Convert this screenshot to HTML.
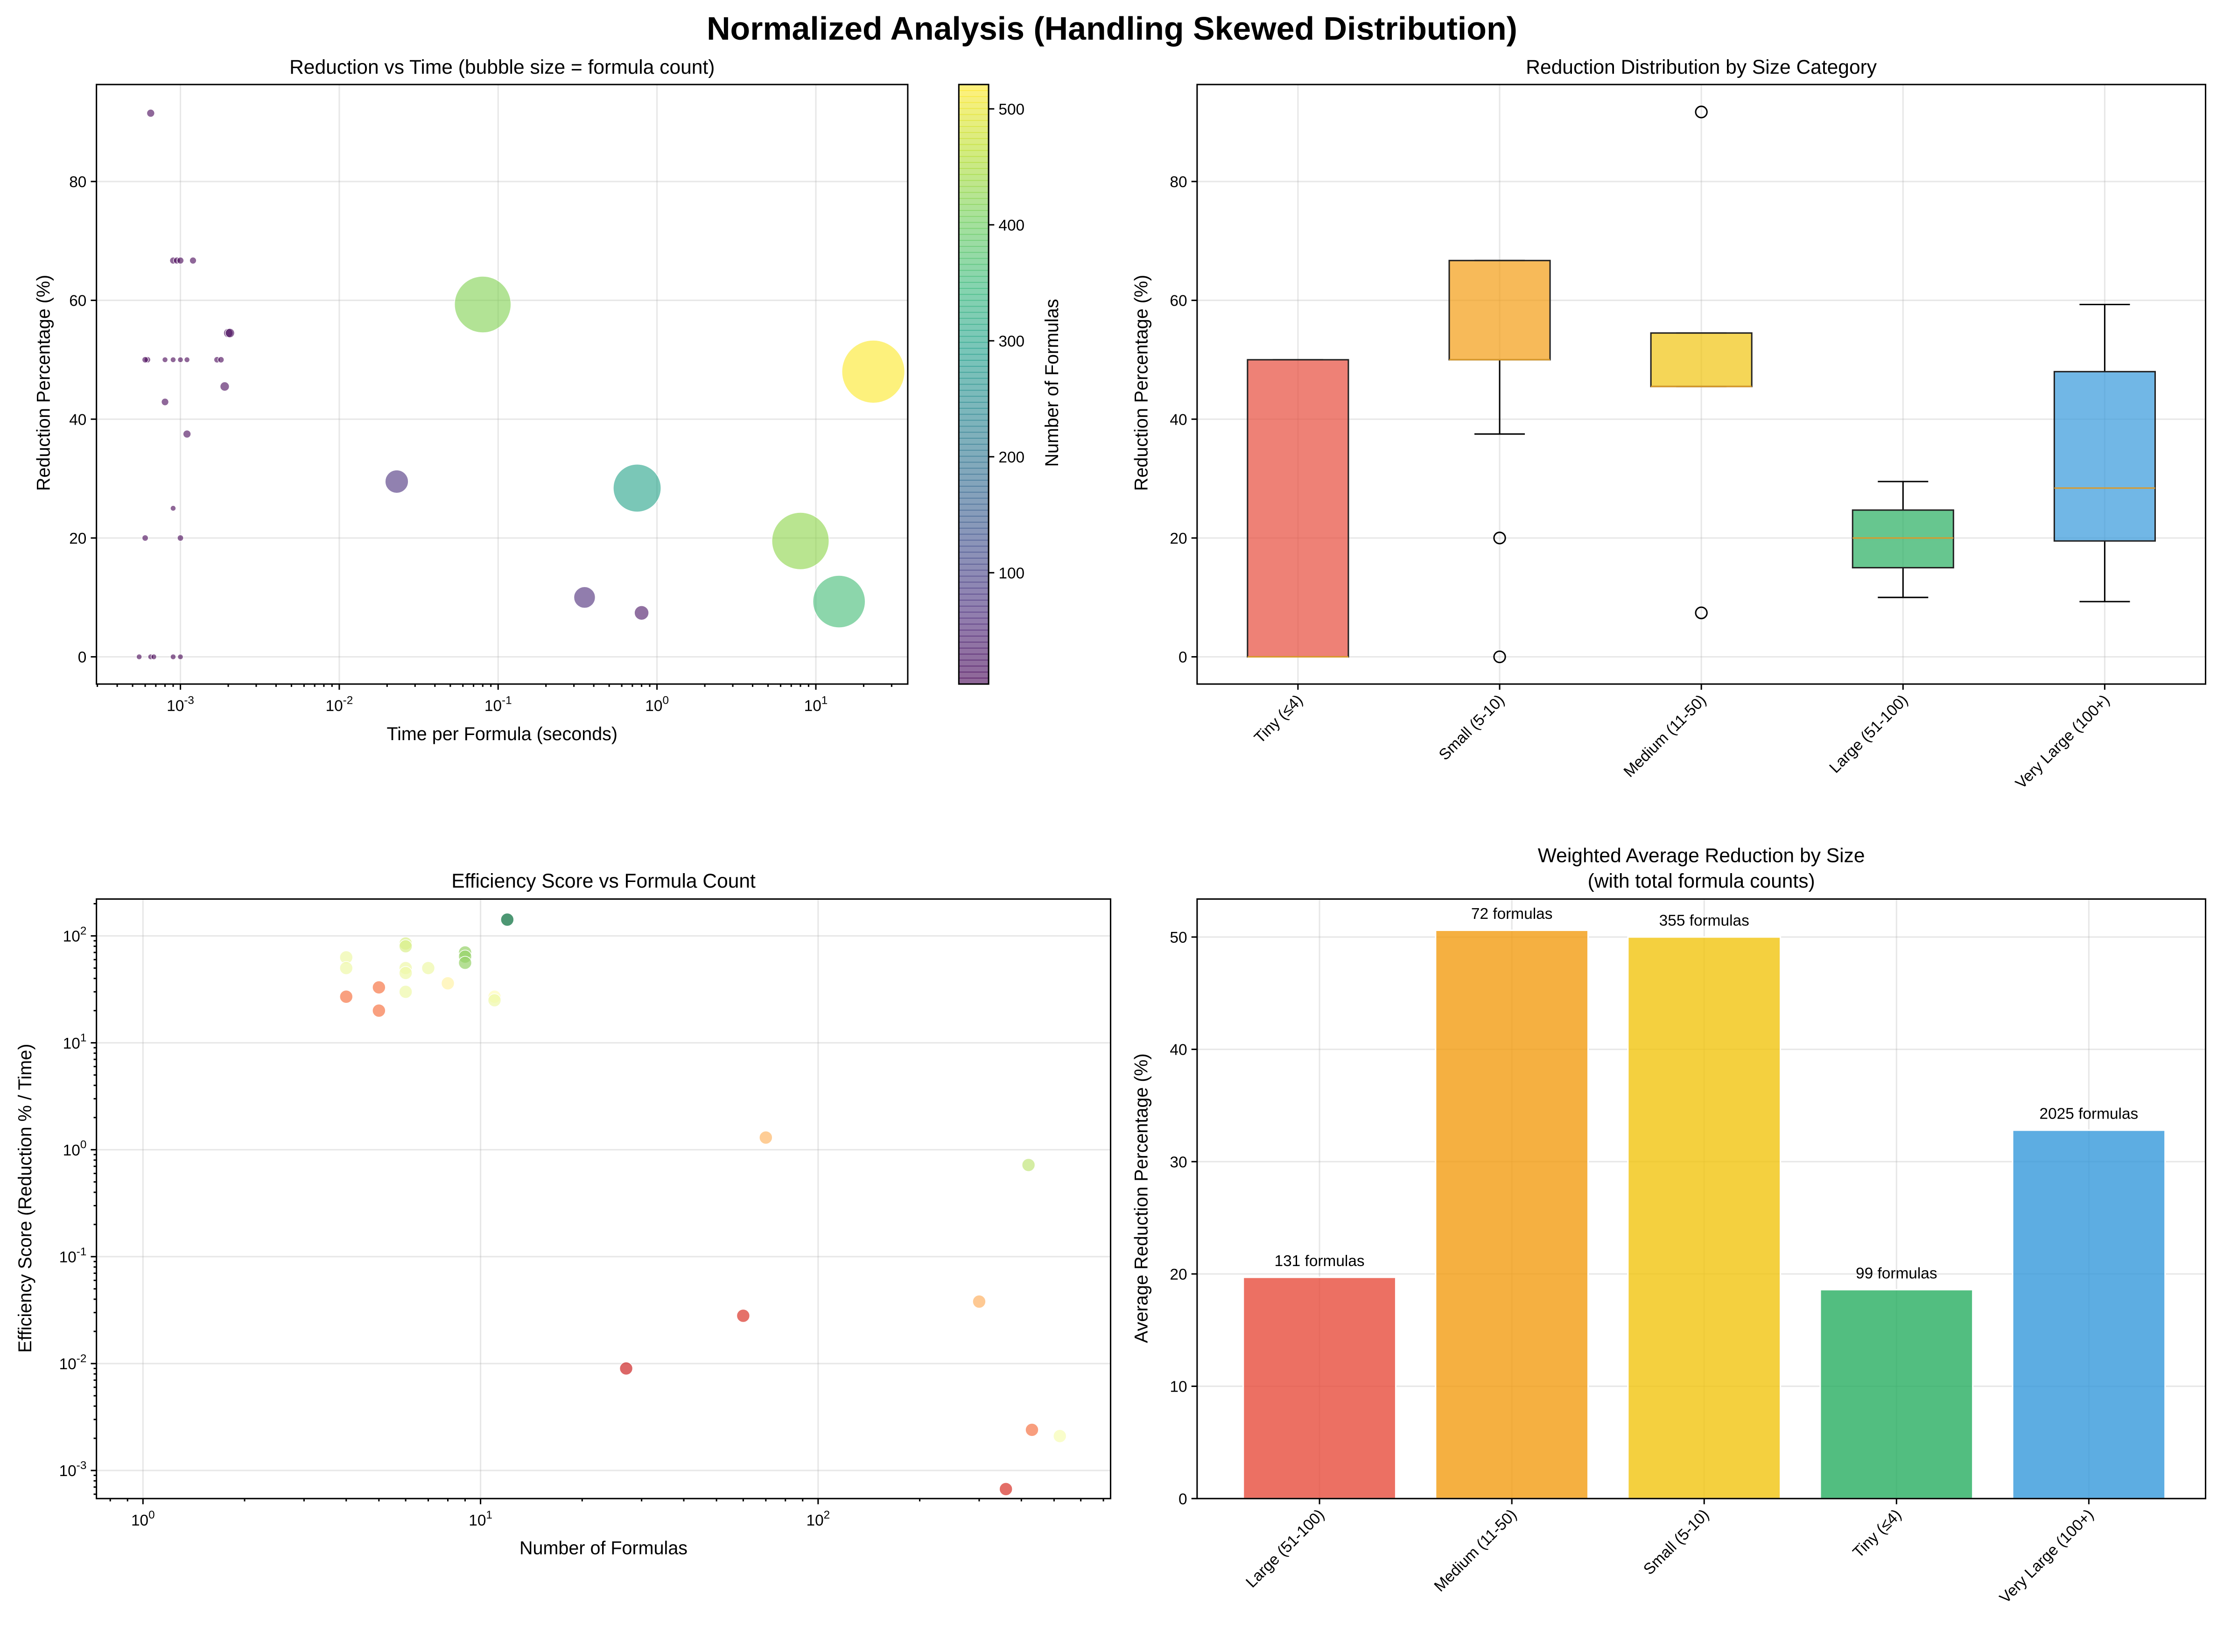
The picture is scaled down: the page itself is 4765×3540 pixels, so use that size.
<!DOCTYPE html>
<html><head><meta charset="utf-8"><style>
html,body{margin:0;padding:0;background:#fff}
svg{display:block;font-family:"Liberation Sans","DejaVu Sans",sans-serif}
</style></head><body>
<svg id="fig" width="4765" height="3540" viewBox="0 0 1568 1165" preserveAspectRatio="none" xmlns="http://www.w3.org/2000/svg">
<rect width="1568" height="1165" fill="#fff"/>
<text x="784" y="28" text-anchor="middle" font-size="23" font-weight="bold">Normalized Analysis (Handling Skewed Distribution)</text>
</svg>
<script>
// ---- data: panel 1 ----
const p1Time=[0.00065,0.0009,0.00095,0.001,0.0012,0.00062,0.0006,0.0008,0.0009,0.001,0.0011,0.0017,0.0018,0.002,0.00205,0.0008,0.0019,0.0011,0.0009,0.0006,0.001,0.00055,0.00065,0.00068,0.0009,0.001,0.08,0.023,0.35,0.8,0.75,8,14,23];
const p1Red=[91.5,66.7,66.7,66.7,66.7,50,50,50,50,50,50,50,50,54.5,54.5,42.9,45.5,37.5,25,20,20,0,0,0,0,0,59.3,29.5,10,7.4,28.4,19.5,9.3,48];
const p1Count=[8,6,6,6,6,5,5,4,4,4,4,5,5,11,11,7,11,8,4,5,5,4,4,4,4,4,420,70,60,27,300,430,360,520];
const cbTicks=[100,200,300,400,500];
// ---- data: panel 2 ----
const boxCats=["Tiny (≤4)","Small (5-10)","Medium (11-50)","Large (51-100)","Very Large (100+)"];
const boxQ1=[0,50,45.5,15,19.5];
const boxMed=[0,50,45.5,20,28.4];
const boxQ3=[50,66.7,54.5,24.7,48];
const boxLo=[0,37.5,45.5,10,9.3];
const boxHi=[50,66.7,54.5,29.5,59.3];
const boxOut=[[],[20,0],[91.7,7.4],[],[]];
const boxColors=["#e74c3c","#f39c12","#f1c40f","#27ae60","#3498db"];
const redTicks=[0,20,40,60,80];
// ---- data: panel 3 ----
const p3N=[4,4,4,5,5,6,6,6,6,6,7,8,9,9,9,11,11,12,70,420,27,60,300,430,520,360];
const p3Eff=[63,50,27,33,20,85,80,50,45,30,50,36,70,64,56,27,25,142,1.3,0.72,0.009,0.028,0.038,0.0024,0.0021,0.00067];
const p3Red=[50,50,20,20,20,55,55,50,50,50,50,42,66.7,66.7,66.7,45,50,91.5,29.5,59.3,7.4,10,28.4,19.5,48,9.3];
// ---- data: panel 4 ----
const barCats=["Large (51-100)","Medium (11-50)","Small (5-10)","Tiny (≤4)","Very Large (100+)"];
const barVals=[19.7,50.6,50.0,18.6,32.8];
const barCounts=[131,72,355,99,2025];
const barColors=["#e74c3c","#f39c12","#f1c40f","#27ae60","#3498db"];
const barTicks=[0,10,20,30,40,50];

const svg=document.getElementById('fig');
const NS="http://www.w3.org/2000/svg";
function el(tag,attrs,parent,text){const e=document.createElementNS(NS,tag);for(const k in attrs)e.setAttribute(k,attrs[k]);if(text!==undefined)e.textContent=text;(parent||svg).appendChild(e);return e;}
function lerpC(stops,t){t=Math.max(0,Math.min(1,t));const n=stops.length-1;const i=Math.min(n-1,Math.floor(t*n));const f=t*n-i;const a=stops[i],b=stops[i+1];return 'rgb('+[0,1,2].map(k=>Math.round(a[k]+(b[k]-a[k])*f)).join(',')+')';}
const viridis=[[68,1,84],[72,40,120],[62,74,137],[49,104,142],[38,130,142],[31,158,137],[53,183,121],[109,205,89],[180,222,44],[253,231,37]];
const rdylgn=[[165,0,38],[215,48,39],[244,109,67],[253,174,97],[254,224,139],[255,255,191],[217,239,139],[166,217,106],[102,189,99],[26,152,80],[0,104,55]];
function frame(x0,y0,x1,y1,name){const r=el('rect',{x:x0,y:y0,width:x1-x0,height:y1-y0,fill:'none',stroke:'#000','stroke-width':1});}
function txt(x,y,s,size,anchor,name,extra){const t=el('text',Object.assign({x:x,y:y,'font-size':size,'text-anchor':anchor||'middle'},extra||{}),svg,s);return t;}
function grid(x0,y0,x1,y1){el('line',{x1:x0,y1:y0,x2:x1,y2:y1,stroke:'#b0b0b0','stroke-opacity':0.3,'stroke-width':1});}
function tick(x0,y0,x1,y1){el('line',{x1:x0,y1:y0,x2:x1,y2:y1,stroke:'#000','stroke-width':1});}
function powLabel(x,y,e,anchor,name){const t=el('text',{x:x,y:y,'font-size':11,'text-anchor':anchor},svg);el('tspan',{},t,'10');el('tspan',{dy:-5,'font-size':8},t,String(e));}

// ===== Panel 1 =====
{const L=68,R=640,T=59.6,B=482.4;
const xs=v=>127.2+(Math.log10(v)+3)*112;const ys=v=>463.2-v*4.19;
const cmin=4,cmax=521;
for(let e=-3;e<=1;e++){grid(xs(Math.pow(10,e)),T,xs(Math.pow(10,e)),B);}
redTicks.forEach(v=>grid(L,ys(v),R,ys(v)));
const order=p1Count.map((c,i)=>i);
order.forEach(i=>{const c=el('circle',{cx:xs(p1Time[i]),cy:ys(p1Red[i]),r:Math.max(1.2,Math.sqrt(p1Count[i])*0.97),fill:lerpC(viridis,(p1Count[i]-cmin)/(cmax-cmin)),'fill-opacity':0.6,stroke:'#fff','stroke-width':0.4});

});
frame(L,T,R,B,'reduction-vs-time-axes');
for(let e=-3;e<=1;e++){const x=xs(Math.pow(10,e));tick(x,B,x,B+4);powLabel(x,B+19,e,'middle','x-tick-label');}
for(let e=-4;e<=1;e++)for(let m=2;m<=9;m++){const x=xs(m*Math.pow(10,e));if(x>L&&x<R)tick(x,B,x,B+2);}
redTicks.forEach(v=>{tick(L-4,ys(v),L,ys(v));txt(L-7,ys(v)+4,String(v),11,'end','y-tick-label');});
txt((L+R)/2,52,'Reduction vs Time (bubble size = formula count)',14,'middle','subplot-title');
txt((L+R)/2,522,'Time per Formula (seconds)',13,'middle','x-axis-title');
txt(0,0,'Reduction Percentage (%)',13,'middle','y-axis-title',{transform:'translate(35,270) rotate(-90)'});
// colorbar
const cL=676,cR=697,cys=v=>B-(v-cmin)/(cmax-cmin)*(B-T);
for(let k=0;k<100;k++){const v0=cmin+(cmax-cmin)*k/100;el('rect',{x:cL,y:cys(v0+(cmax-cmin)/100)-0.3,width:cR-cL,height:(B-T)/100+0.6,fill:lerpC(viridis,k/99),'fill-opacity':0.6});}
frame(cL,T,cR,B,'colorbar');
cbTicks.forEach(v=>{tick(cR,cys(v),cR+4,cys(v));txt(cR+7,cys(v)+4,String(v),11,'start','colorbar-tick-label');});
txt(0,0,'Number of Formulas',13,'middle','colorbar-title',{transform:'translate(746,270) rotate(-90)'});
}
// ===== Panel 2 =====
{const L=844,R=1555,T=59.6,B=482.4;const ys=v=>463.2-v*4.19;const xc=i=>L+(R-L)*(0.1+0.2*i);const w=(R-L)*0.1;
redTicks.forEach(v=>grid(L,ys(v),R,ys(v)));
boxCats.forEach((c,i)=>grid(xc(i),T,xc(i),B));
boxCats.forEach((c,i)=>{const x=xc(i);
tick(x,ys(boxLo[i]),x,ys(boxQ1[i]));tick(x,ys(boxQ3[i]),x,ys(boxHi[i]));
tick(x-w/4,ys(boxLo[i]),x+w/4,ys(boxLo[i]));tick(x-w/4,ys(boxHi[i]),x+w/4,ys(boxHi[i]));
const r=el('rect',{x:x-w/2,y:ys(boxQ3[i]),width:w,height:Math.max(0.5,ys(boxQ1[i])-ys(boxQ3[i])),fill:boxColors[i],'fill-opacity':0.7,stroke:'#222','stroke-width':1});


el('line',{x1:x-w/2,y1:ys(boxMed[i]),x2:x+w/2,y2:ys(boxMed[i]),stroke:'#d99a2b','stroke-width':1});
boxOut[i].forEach(o=>{const c=el('circle',{cx:x,cy:ys(o),r:4,fill:'none',stroke:'#000','stroke-width':1});

});
tick(x,B,x,B+4);
txt(0,0,c,11,'end','x-tick-label',{transform:'translate('+(x+4)+','+(B+12)+') rotate(-45)'});});
frame(L,T,R,B,'box-plot-axes');
redTicks.forEach(v=>{tick(L-4,ys(v),L,ys(v));txt(L-7,ys(v)+4,String(v),11,'end','y-tick-label');});
txt((L+R)/2,52,'Reduction Distribution by Size Category',14,'middle','subplot-title');
txt(0,0,'Reduction Percentage (%)',13,'middle','y-axis-title',{transform:'translate(809,270) rotate(-90)'});
}
// ===== Panel 3 =====
{const L=68,R=783,T=634,B=1056.8;const xs=v=>100.8+Math.log10(v)*238;const ys=v=>660+(2-Math.log10(v))*75.4;
for(let e=0;e<=2;e++)grid(xs(Math.pow(10,e)),T,xs(Math.pow(10,e)),B);
for(let e=-3;e<=2;e++)grid(L,ys(Math.pow(10,e)),R,ys(Math.pow(10,e)));
p3N.forEach((n,i)=>{const c=el('circle',{cx:xs(n),cy:ys(p3Eff[i]),r:4.6,fill:lerpC(rdylgn,p3Red[i]/92),'fill-opacity':0.7,stroke:'#fff','stroke-width':0.5});

});
frame(L,T,R,B,'efficiency-axes');
for(let e=0;e<=2;e++){const x=xs(Math.pow(10,e));tick(x,B,x,B+4);powLabel(x,B+19,e,'middle','x-tick-label');}
for(let e=-1;e<=2;e++)for(let m=2;m<=9;m++){const x=xs(m*Math.pow(10,e));if(x>L&&x<R)tick(x,B,x,B+2);}
for(let e=-3;e<=2;e++){const y=ys(Math.pow(10,e));tick(L-4,y,L,y);powLabel(L-7,y+4,e,'end','y-tick-label');}
for(let e=-4;e<=2;e++)for(let m=2;m<=9;m++){const y=ys(m*Math.pow(10,e));if(y>T&&y<B)tick(L-2,y,L,y);}
txt((L+R)/2,626,'Efficiency Score vs Formula Count',14,'middle','subplot-title');
txt((L+R)/2,1096,'Number of Formulas',13,'middle','x-axis-title');
txt(0,0,'Efficiency Score (Reduction % / Time)',13,'middle','y-axis-title',{transform:'translate(22,845) rotate(-90)'});
}
// ===== Panel 4 =====
{const L=844,R=1555,T=634,B=1056.8;const ys=v=>B-v*7.92;const xc=i=>930.3+i*135.6;const w=107.5;
barTicks.forEach(v=>grid(L,ys(v),R,ys(v)));
barCats.forEach((c,i)=>grid(xc(i),T,xc(i),B));
barCats.forEach((c,i)=>{const x=xc(i);
const r=el('rect',{x:x-w/2,y:ys(barVals[i]),width:w,height:B-ys(barVals[i]),fill:barColors[i],'fill-opacity':0.8,stroke:'#fff','stroke-width':1});


txt(x,ys(barVals[i])-8,barCounts[i]+' formulas',11,'middle','bar-value-label');
tick(x,B,x,B+4);
txt(0,0,c,11,'end','x-tick-label',{transform:'translate('+(x+4)+','+(B+12)+') rotate(-45)'});});
frame(L,T,R,B,'weighted-average-axes');
barTicks.forEach(v=>{tick(L-4,ys(v),L,ys(v));txt(L-7,ys(v)+4,String(v),11,'end','y-tick-label');});
txt((L+R)/2,608,'Weighted Average Reduction by Size',14,'middle','subplot-title');
txt((L+R)/2,626,'(with total formula counts)',14,'middle','subplot-subtitle');
txt(0,0,'Average Reduction Percentage (%)',13,'middle','y-axis-title',{transform:'translate(809,845) rotate(-90)'});
}
</script>
</body></html>
